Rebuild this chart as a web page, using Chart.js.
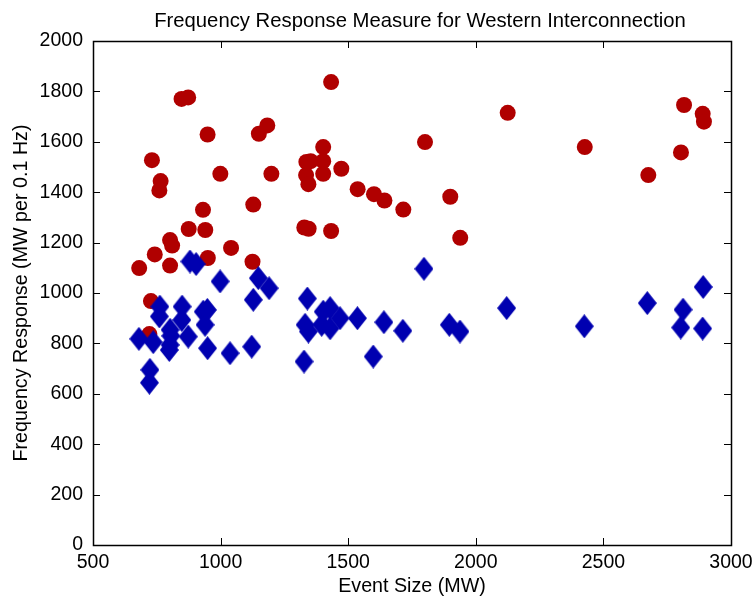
<!DOCTYPE html>
<html><head><meta charset="utf-8">
<script src="https://cdn.jsdelivr.net/npm/chart.js@4/dist/chart.umd.min.js"></script>
<style>html,body{margin:0;padding:0;background:#fff}#wrap{width:754px;height:600px}</style>
</head><body><div id="wrap"><canvas id="c" width="754" height="600"></canvas></div>
<script>
const chartTitle = 'Frequency Response Measure for Western Interconnection';
const xTitle = 'Event Size (MW)';
const yTitle = 'Frequency Response (MW per 0.1 Hz)';
const xTicks = [500, 1000, 1500, 2000, 2500, 3000];
const yTicks = [0, 200, 400, 600, 800, 1000, 1200, 1400, 1600, 1800, 2000];

const redX = [681, 721, 727, 731, 742, 760, 765, 802, 802, 810, 847, 873, 875, 931, 940, 949, 950, 999, 1041, 1125,
  1128, 1150, 1183, 1199, 1328, 1335, 1336, 1344, 1345, 1353, 1402, 1402, 1402, 1433, 1433, 1473, 1537, 1601, 1642, 1716,
  1801, 1900, 1939, 2125, 2427, 2676, 2804, 2816, 2889, 2894];
const redY = [1099, 837, 968, 1527, 1153, 1407, 1444, 1109, 1210, 1188, 1770, 1776, 1254, 1330, 1250, 1629, 1139, 1473, 1179, 1124,
  1351, 1632, 1665, 1473, 1260, 1468, 1520, 1432, 1255, 1523, 1579, 1523, 1473, 1837, 1246, 1493, 1412, 1392, 1367, 1331,
  1599, 1382, 1219, 1715, 1579, 1468, 1558, 1746, 1711, 1680];

const blueX = [680, 721, 723, 736, 760, 762, 799, 802, 802, 805, 848, 849, 873, 880, 904, 932, 939, 948, 949, 998,
  1037, 1122, 1128, 1148, 1190, 1327, 1331, 1340, 1344, 1396, 1402, 1429, 1429, 1468, 1536, 1598, 1640, 1714, 1797, 1896,
  1938, 2121, 2425, 2672, 2803, 2812, 2889, 2891];
const blueY = [818, 644, 695, 805, 907, 946, 774, 794, 854, 830, 893, 946, 827, 1125, 1115, 926, 874, 933, 781, 1046,
  761, 787, 973, 1059, 1019, 728, 874, 978, 847, 874, 926, 940, 860, 900, 900, 748, 884, 850, 1096, 874,
  847, 940, 868, 960, 863, 934, 859, 1024];

const redPts = redX.map((v, i) => ({x: v, y: redY[i]}));
const bluePts = blueX.map((v, i) => ({x: v, y: blueY[i]}));

function diamond(w, h, color) {
  const c = document.createElement('canvas');
  c.width = w; c.height = h;
  const g = c.getContext('2d');
  g.fillStyle = color;
  g.beginPath();
  g.moveTo(w / 2, 0); g.lineTo(w, h / 2); g.lineTo(w / 2, h); g.lineTo(0, h / 2);
  g.closePath(); g.fill();
  return c;
}

const FAMILY = '"Liberation Sans", Arial, Helvetica, sans-serif';
const TICKFONT = {family: FAMILY, size: 19.5};
const AXFONT = {family: FAMILY, size: 19.7};

const boxTicks = {
  id: 'boxTicks',
  afterDatasetsDraw(chart) {
    const {ctx, chartArea: a, scales: {x, y}} = chart;
    ctx.save();
    ctx.strokeStyle = '#000';
    ctx.lineWidth = 1;
    const L = 7;
    ctx.beginPath();
    xTicks.forEach(v => {
      const p = Math.round(x.getPixelForValue(v)) + 0.5;
      ctx.moveTo(p, a.bottom); ctx.lineTo(p, a.bottom - L);
      ctx.moveTo(p, a.top); ctx.lineTo(p, a.top + L);
    });
    yTicks.forEach(v => {
      const p = Math.round(y.getPixelForValue(v)) + 0.5;
      ctx.moveTo(a.left, p); ctx.lineTo(a.left + L, p);
      ctx.moveTo(a.right, p); ctx.lineTo(a.right - L, p);
    });
    ctx.stroke();
    ctx.lineWidth = 1.5;
    ctx.strokeRect(Math.round(a.left) + 0.5, Math.round(a.top) + 0.5, Math.round(a.right - a.left), Math.round(a.bottom - a.top));
    // title
    ctx.fillStyle = '#000';
    ctx.font = '20.3px ' + FAMILY;
    ctx.textAlign = 'center';
    ctx.textBaseline = 'alphabetic';
    ctx.fillText(chartTitle, (a.left + a.right) / 2 + 8, 27);
    ctx.restore();
  }
};

new Chart(document.getElementById('c'), {
  type: 'scatter',
  data: {
    datasets: [
      {label: 'red', data: redPts, order: 1, pointStyle: 'circle', pointRadius: 8, pointBackgroundColor: '#b00000', pointBorderWidth: 0, borderColor: '#b00000'},
      {label: 'blue', data: bluePts, order: 0, pointStyle: diamond(19, 24, '#0000b0'), pointRadius: 10, pointBackgroundColor: '#0000b0', pointBorderWidth: 0}
    ]
  },
  options: {
    responsive: false,
    animation: false,
    layout: {padding: {left: 0, right: 23, top: 41, bottom: 0}},
    plugins: {
      legend: {display: false},
      tooltip: {enabled: false},
      title: {display: false}
    },
    scales: {
      x: {
        type: 'linear', min: 500, max: 3000,
        afterBuildTicks: s => { s.ticks = xTicks.map(v => ({value: v})); },
        afterFit: s => { s.height = 55; s.paddingLeft = 0; s.paddingRight = 0; },
        grid: {display: false, drawTicks: false},
        border: {display: false},
        ticks: {color: '#000', font: TICKFONT, padding: 6, maxRotation: 0, autoSkip: false, callback: v => String(v)},
        title: {display: true, text: xTitle, color: '#000', font: AXFONT, padding: {top: 0, bottom: 2}}
      },
      y: {
        type: 'linear', min: 0, max: 2000,
        afterBuildTicks: s => { s.ticks = yTicks.map(v => ({value: v})); },
        afterFit: s => { s.width = 93; s.paddingTop = 0; s.paddingBottom = 0; },
        grid: {display: false, drawTicks: false},
        border: {display: false},
        ticks: {color: '#000', font: TICKFONT, padding: 10, autoSkip: false, callback: v => String(v)},
        title: {display: true, text: yTitle, color: '#000', font: AXFONT, padding: {top: 10, bottom: 0}}
      }
    }
  },
  plugins: [boxTicks]
});
</script>
</body></html>
